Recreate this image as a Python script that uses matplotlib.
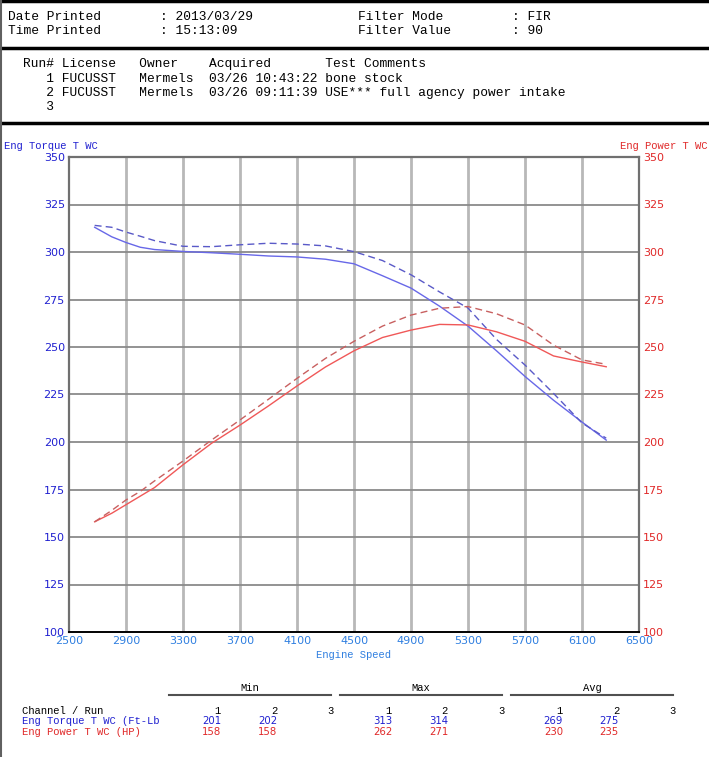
import matplotlib
matplotlib.use("Agg")
import matplotlib.pyplot as plt
import numpy as np

# dyno data
rpm = [2680, 2800, 2900, 3000, 3100, 3300, 3500, 3700, 3900, 4100, 4300,
       4500, 4700, 4900, 5100, 5300, 5500, 5700, 5900, 6100, 6270]
torque_run1 = [313, 308, 305, 302.5, 301.3, 300.3, 299.6, 298.8, 297.9, 297.4, 296.2,
               293.8, 287.5, 281, 271.5, 261, 248, 234.5, 222, 210.5, 201]
torque_run2 = [314, 313, 310.5, 308.3, 306, 303, 302.8, 303.8, 304.6, 304.2, 303.2,
               300.2, 295.5, 288, 279, 270.5, 254, 240.5, 225.6, 210, 202]
power_run1 = [158, 162.5, 167, 171.5, 176, 188, 199.3, 208.9, 219, 229.5, 239.5,
              248, 255, 258.9, 261.9, 261.6, 258, 253, 245.3, 242.1, 239.6]
power_run2 = [158, 164, 169.5, 174, 179.5, 190, 201, 211.6, 222.5, 233.5, 244,
              253, 261, 266.8, 270.4, 271.3, 267.5, 261.6, 251, 243.2, 240.9]

x_ticks = list(range(2500, 6501, 400))
y_ticks = list(range(100, 351, 25))

header_rows = [("Date Printed", ": 2013/03/29", "Filter Mode", ": FIR"),
               ("Time Printed", ": 15:13:09", "Filter Value", ": 90")]
run_lines = ["Run# License   Owner    Acquired       Test Comments",
             "   1 FUCUSST   Mermels  03/26 10:43:22 bone stock",
             "   2 FUCUSST   Mermels  03/26 09:11:39 USE*** full agency power intake",
             "   3"]

stat_groups = ["Min", "Max", "Avg"]
torque_stats = [["201", "202", ""], ["313", "314", ""], ["269", "275", ""]]
power_stats = [["158", "158", ""], ["262", "271", ""], ["230", "235", ""]]

BLUE = "#2020d0"
RED = "#e02828"
XBLUE = "#2f7fe0"
MONO = "Liberation Mono"

W, H = 709, 757
fig = plt.figure(figsize=(W / 100, H / 100), dpi=100)

# overlay in pixel coordinates for the printout text and rules
ov = fig.add_axes([0, 0, 1, 1])
ov.set_xlim(0, W)
ov.set_ylim(H, 0)
ov.axis("off")

ov.plot([0, W], [1, 1], color="black", lw=2.5)
ov.plot([0, W], [47.5, 47.5], color="black", lw=2.5)
ov.plot([0, W], [122.5, 122.5], color="black", lw=2.5)
ov.plot([1, 1], [0, H], color="#606060", lw=1.5)

for i, (a, b, c, d) in enumerate(header_rows):
    yy = 17 + i * 14
    for xx, s in zip([8, 160, 358, 512], [a, b, c, d]):
        ov.text(xx, yy, s, family=MONO, fontsize=9.3, va="center", ha="left")

for i, s in enumerate(run_lines):
    ov.text(23, 64.5 + i * 14.3, s, family=MONO, fontsize=9.3, va="center", ha="left")

ov.text(4, 146, "Eng Torque T WC", family=MONO, fontsize=7.6, color=BLUE, va="center")
ov.text(708, 146, "Eng Power T WC", family=MONO, fontsize=7.6, color=RED, va="center", ha="right")
ov.text(354, 655, "Engine Speed", family=MONO, fontsize=7.6, color=XBLUE, va="center", ha="center")

# stats table
group_x = [169, 340, 511]
col_off = [52, 108, 165]
for g, name in enumerate(stat_groups):
    x0 = group_x[g]
    ov.text(x0 + 81, 688, name, family=MONO, fontsize=7.6, va="center", ha="center")
    ov.plot([x0, x0 + 162], [695, 695], color="#505050", lw=1.5)
    for c in range(3):
        ov.text(x0 + col_off[c], 711, str(c + 1), family=MONO, fontsize=7.6,
                va="center", ha="right")
        ov.text(x0 + col_off[c], 721, torque_stats[g][c], fontsize=7.3,
                color=BLUE, va="center", ha="right")
        ov.text(x0 + col_off[c], 732, power_stats[g][c], fontsize=7.3,
                color=RED, va="center", ha="right")
ov.text(22, 711, "Channel / Run", family=MONO, fontsize=7.6, va="center")
ov.text(22, 721, "Eng Torque T WC (Ft-Lb", family=MONO, fontsize=7.6, color=BLUE, va="center")
ov.text(22, 732, "Eng Power T WC (HP)", family=MONO, fontsize=7.6, color=RED, va="center")

# main chart
ax = fig.add_axes([69 / W, (H - 632) / H, 570 / W, 475 / H])
ax.set_xlim(2500, 6500)
ax.set_ylim(100, 350)
ax.set_xticks(x_ticks)
ax.set_yticks(y_ticks)
for xt in x_ticks[1:-1]:
    ax.axvline(xt, color="#b8b8b8", lw=2, zorder=1)
for yt in y_ticks[1:-1]:
    ax.axhline(yt, color="#8a8a8a", lw=1.3, zorder=1)
ax.tick_params(length=0, pad=3)
ax.tick_params(axis="y", colors=BLUE, labelsize=8)
ax.tick_params(axis="x", colors=XBLUE, labelsize=8)
for side in ["left", "top", "right"]:
    ax.spines[side].set_color("#707070")
    ax.spines[side].set_linewidth(1.6)
ax.spines["bottom"].set_color("black")
ax.spines["bottom"].set_linewidth(1.4)

ax.plot(rpm, torque_run1, color="#6868e8", lw=1, zorder=3)
ax.plot(rpm, torque_run2, color="#5a5ac8", lw=1, ls=(0, (5, 3)), zorder=3)
ax.plot(rpm, power_run1, color="#f05858", lw=1, zorder=3)
ax.plot(rpm, power_run2, color="#c86060", lw=1, ls=(0, (5, 3)), zorder=3)

ax2 = ax.twinx()
ax2.set_ylim(100, 350)
ax2.set_yticks(y_ticks)
ax2.tick_params(length=0, pad=3, colors=RED, labelsize=8)
for s in ax2.spines.values():
    s.set_visible(False)

fig.savefig("out.png", dpi=100)
